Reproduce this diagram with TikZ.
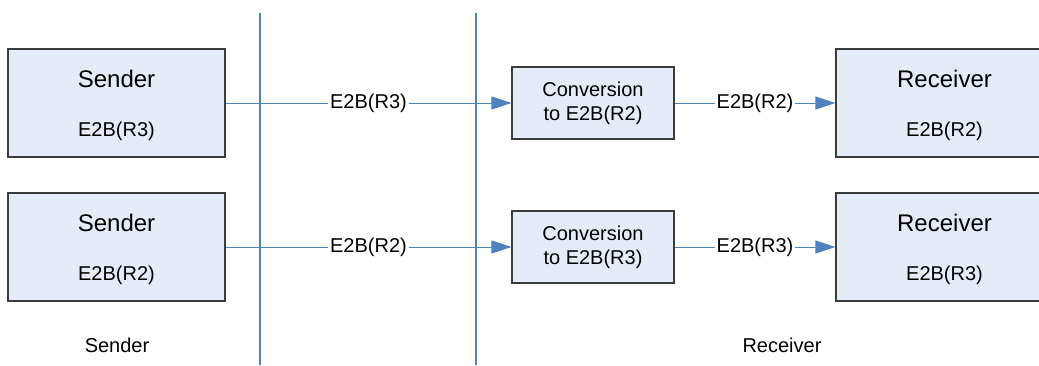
\documentclass[tikz,border=0pt]{standalone}
\usepackage{fontspec}
\setmainfont{Liberation Sans}
\usetikzlibrary{arrows.meta,shadows}

\definecolor{boxfill}{RGB}{230,236,247}
\definecolor{boxline}{RGB}{60,60,60}
\definecolor{linkblue}{RGB}{79,129,189}

\tikzset{
  party/.style={draw=boxline,fill=boxfill,line width=0.6pt,minimum width=108.5pt,minimum height=54pt,inner sep=0pt,
    drop shadow={shadow xshift=0.7pt,shadow yshift=-0.7pt,opacity=0.5,fill=gray}},
  conv/.style={party,minimum width=81pt,minimum height=36pt,align=center,font=\fontsize{10}{12}\selectfont},
  big/.style={font=\fontsize{12}{14}\selectfont},
  small/.style={font=\fontsize{10}{12}\selectfont},
  link/.style={draw=linkblue,line width=0.5pt,-{Triangle[length=10pt,width=6.5pt]}},
  tag/.style={small,fill=white,inner sep=1pt},
  divider/.style={draw=linkblue,line width=0.6pt}
}

\begin{document}
\begin{tikzpicture}[x=0.5pt,y=-0.5pt]
\useasboundingbox (0,0) rectangle (1039,365);
\clip (0,0) rectangle (1039,365);

% sender / receiver split
\draw[divider] (260,13) -- (260,365);
\draw[divider] (476,13) -- (476,365);

% boxes
\node[party] (sendA) at (116.5,103) {};
\node[party] (sendB) at (116.5,247) {};
\node[conv] (convA) at (593,103) {Conversion\\to E2B(R2)};
\node[conv] (convB) at (593,247) {Conversion\\to E2B(R3)};
\node[party] (recvA) at (944.5,103) {};
\node[party] (recvB) at (944.5,247) {};

\node[big] (sendAname) at ([yshift=12pt]sendA.center) {Sender};
\node[small] (sendAver) at ([yshift=-14pt]sendA.center) {E2B(R3)};
\node[big] (sendBname) at ([yshift=12pt]sendB.center) {Sender};
\node[small] (sendBver) at ([yshift=-14pt]sendB.center) {E2B(R2)};
\node[big] (recvAname) at ([yshift=12pt]recvA.center) {Receiver};
\node[small] (recvAver) at ([yshift=-14pt]recvA.center) {E2B(R2)};
\node[big] (recvBname) at ([yshift=12pt]recvB.center) {Receiver};
\node[small] (recvBver) at ([yshift=-14pt]recvB.center) {E2B(R3)};

% messages
\draw[link] (sendA) -- node[tag] (msgA) {E2B(R3)} (convA);
\draw[link] (convA) -- node[tag] (outA) {E2B(R2)} (recvA);
\draw[link] (sendB) -- node[tag] (msgB) {E2B(R2)} (convB);
\draw[link] (convB) -- node[tag] (outB) {E2B(R3)} (recvB);

% sides
\node[small] (sendside) at (117,345) {Sender};
\node[small] (recvside) at (782,345) {Receiver};
\end{tikzpicture}
\end{document}
